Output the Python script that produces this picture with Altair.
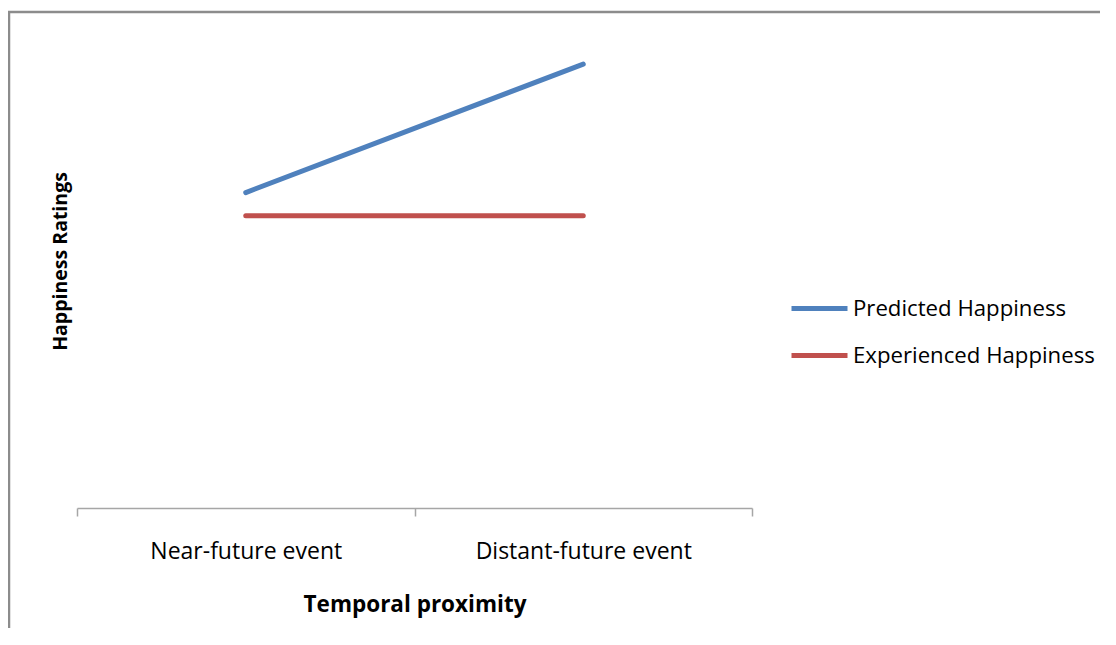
import altair as alt
import pandas as pd

categories = ["Near-future event", "Distant-future event"]
series_names = ["Predicted Happiness", "Experienced Happiness"]
predicted = [4.47, 6.29]
experienced = [4.14, 4.14]
series_colors = ["#4F81BD", "#C0504D"]

rows = []
for cat, p, e in zip(categories, predicted, experienced):
    rows.append({"proximity": cat, "series": series_names[0], "rating": p})
    rows.append({"proximity": cat, "series": series_names[1], "rating": e})
df = pd.DataFrame(rows)

W, H = 675, 494
FONT = "Open Sans"
GRAY = "#8C8C8C"

lines = alt.Chart(df).mark_line(strokeWidth=5, strokeCap="round").encode(
    x=alt.X(
        "proximity:N",
        sort=categories,
        scale=alt.Scale(type="band", paddingInner=0, paddingOuter=0),
        axis=alt.Axis(
            title="Temporal proximity",
            labelAngle=0,
            labelLimit=400,
            tickBand="extent",
            domainColor="#A6A6A6",
            domainWidth=1.5,
            tickColor="#A6A6A6",
            tickWidth=1.5,
            tickSize=8,
            labelFontSize=23,
            labelPadding=24,
            titleFontSize=22.5,
            titlePadding=30,
            grid=False,
        ),
    ),
    y=alt.Y(
        "rating:Q",
        scale=alt.Scale(domain=[0, 7], nice=False, zero=True),
        axis=alt.Axis(
            title="Happiness Ratings",
            labels=False,
            ticks=False,
            domain=False,
            grid=False,
            titleFontSize=19.5,
            titlePadding=7,
        ),
    ),
    color=alt.Color(
        "series:N",
        sort=series_names,
        scale=alt.Scale(domain=series_names, range=series_colors),
        legend=alt.Legend(
            title=None,
            orient="none",
            legendX=712,
            legendY=264,
            symbolType="stroke",
            symbolSize=3136,
            symbolStrokeWidth=5,
            labelOffset=3,
            rowPadding=5,
            padding=0,
        ),
    ),
    detail="series:N",
)

frame_src = alt.Chart(pd.DataFrame({"k": [0]}))
frame_top = frame_src.mark_rule(color=GRAY, strokeWidth=2.5).encode(
    x=alt.value(-69), x2=alt.value(1200), y=alt.value(-2)
)
frame_left = frame_src.mark_rule(color=GRAY, strokeWidth=2.5).encode(
    x=alt.value(-68), y=alt.value(-3), y2=alt.value(700)
)

chart = (
    alt.layer(frame_top, frame_left, lines)
    .properties(
        width=W,
        height=H,
        autosize=alt.AutoSizeParams(type="none"),
        padding={"left": 69, "top": 6, "right": 348, "bottom": 120},
    )
    .configure_view(stroke=None)
    .configure_axis(
        labelFont=FONT,
        titleFont=FONT,
        labelColor="#000000",
        titleColor="#000000",
        titleFontWeight="bold",
    )
    .configure_legend(labelFont=FONT, labelFontSize=22.2, labelColor="#000000", labelLimit=400)
)

chart.save("out.html", embed_options={"renderer": "svg", "actions": False})
